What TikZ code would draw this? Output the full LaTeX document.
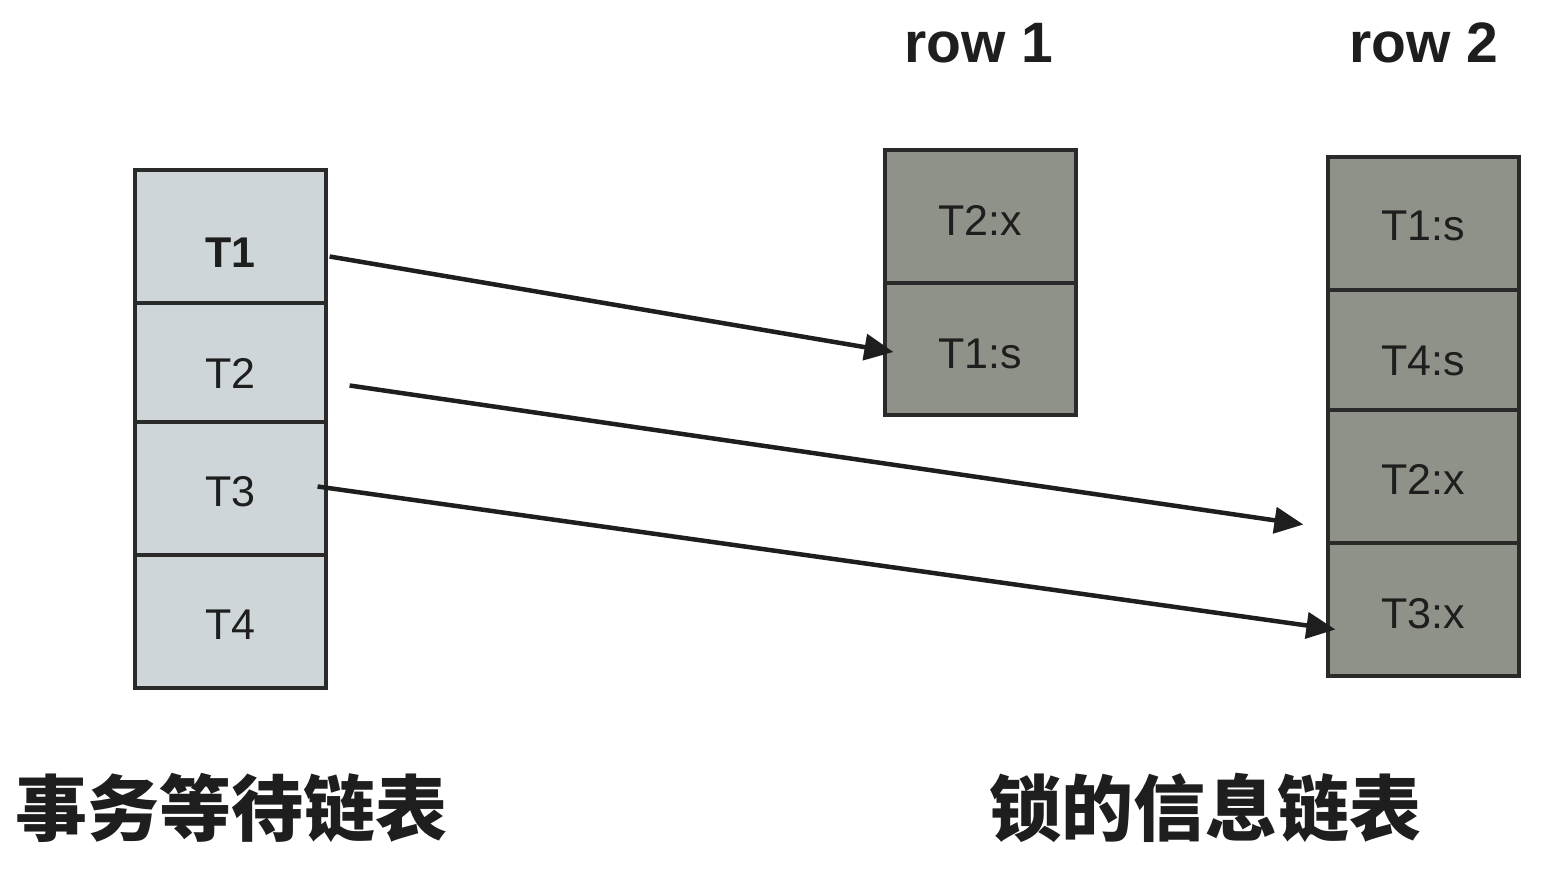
\documentclass[tikz,border=0pt]{standalone}
\usepackage{fontspec}
\setmainfont{Liberation Sans}
\newfontfamily\cjk{Noto Sans CJK SC}
\usetikzlibrary{arrows.meta}
\definecolor{lfill}{HTML}{CED6D9}
\definecolor{rfill}{HTML}{8F9288}
\definecolor{edge}{HTML}{2A2A2A}
\definecolor{ink}{HTML}{1E1E1E}
\tikzset{
  cell/.style={draw=edge, line width=3.2pt, minimum width=191pt, inner sep=0pt, text=ink,
    font=\fontsize{43}{45}\selectfont, text depth=0pt},
  lcell/.style={cell, fill=lfill},
  rcell/.style={cell, fill=rfill},
  sh/.style={text height=#1},
  link/.style={line width=4.5pt, draw=ink, -{Triangle[length=29pt,width=26pt]}},
  rowlabel/.style={font=\fontsize{57}{60}\selectfont\bfseries, inner sep=0pt, text=ink},
  title/.style={font=\cjk\bfseries\fontsize{72}{74}\selectfont, inner sep=0pt, text=ink}
}
\begin{document}
\begin{tikzpicture}[x=1pt,y=-1pt]
\useasboundingbox (0,0) rectangle (1552,882);
% left column
\node[lcell, minimum height=133pt, sh=62pt] (t1) at (230.5,236.5) {\bfseries T1};
\node[lcell, minimum height=119pt, sh=51pt] (t2) at (230.5,362.5) {T2};
\node[lcell, minimum height=133pt, sh=36pt] (t3) at (230.5,488.5) {T3};
\node[lcell, minimum height=133pt, sh=36pt] (t4) at (230.5,621.5) {T4};
% row 1
\node[rcell, minimum height=133pt, sh=38pt] (r1a) at (980.5,216.5) {T2:x};
\node[rcell, minimum height=132pt, sh=38pt] (r1b) at (980.5,349) {T1:s};
% row 2
\node[rcell, minimum height=133pt, sh=35pt] (r2a) at (1423.5,223.5) {T1:s};
\node[rcell, minimum height=120pt, sh=51pt] (r2b) at (1423.5,350) {T4:s};
\node[rcell, minimum height=133pt, sh=36pt] (r2c) at (1423.5,476.5) {T2:x};
\node[rcell, minimum height=133pt, sh=37pt] (r2d) at (1423.5,609.5) {T3:x};
% labels
\node[rowlabel] (lab1) at (979,43) {row 1};
\node[rowlabel] (lab2) at (1424,43) {row 2};
\node[title] (tl) at (231,808) {事务等待链表};
\node[title] (tr) at (1205,808) {锁的信息链表};
% arrows
\draw[link] ([xshift=2pt,yshift=-20pt]t1.east) -- ([xshift=10pt,yshift=-3pt]r1b.west);
\draw[link] ([xshift=22pt,yshift=-23pt]t2.east) -- ([xshift=-23pt,yshift=-48pt]r2c.west);
\draw[link] ([xshift=-10pt,yshift=2pt]t3.east) -- ([xshift=9pt,yshift=-20pt]r2d.west);
\end{tikzpicture}
\end{document}
